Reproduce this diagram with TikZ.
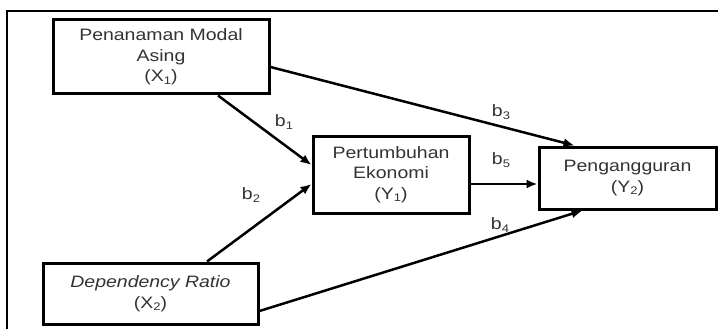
\documentclass[tikz,border=0pt]{standalone}
\usepackage{fontspec}
\setmainfont{Liberation Sans}[FakeStretch=1.18]
\usetikzlibrary{arrows.meta}
\newcommand{\sbs}[1]{\raisebox{-2.5pt}{\fontsize{11}{11}\selectfont #1}}
\begin{document}
\begin{tikzpicture}[x=1pt,y=-1pt,
  box/.style={draw=black,line width=3pt,fill=white,align=center,inner sep=0pt,
    font=\fontsize{16.5}{20.5}\selectfont,text=black!80},
  conn/.style={line width=2.5pt,-{Latex[length=11pt,width=9pt]}},
  lab/.style={font=\fontsize{16.5}{20}\selectfont,text=black!80,inner sep=0pt}]
\useasboundingbox (0,0) rectangle (718,329);
\draw[line width=2.2pt] (7,331) -- (7,11) -- (720,11);
\node[box,minimum width=216pt,minimum height=74pt] (x1) at (161,57) {Penanaman Modal\\Asing\\(X\sbs{1})};
\node[box,minimum width=215pt,minimum height=61pt] (x2) at (150.5,293.5) {\itshape Dependency Ratio\\(X\sbs{2})};
\node[box,minimum width=156pt,minimum height=77pt] (y1) at (391,174.5) {Pertumbuhan\\Ekonomi\\(Y\sbs{1})};
\node[box,minimum width=177pt,minimum height=62pt] (y2) at (627.5,178) {Pengangguran\\(Y\sbs{2})};
\draw[conn] ([xshift=57pt]x1.south) -- ([yshift=9.5pt]y1.west);
\draw[conn] ([xshift=56.5pt]x2.north) -- ([yshift=-9.5pt]y1.west);
\draw[conn] ([yshift=-10pt]x1.east) -- ([xshift=-53pt]y2.north);
\draw[conn] ([yshift=-17.5pt]x2.east) -- ([xshift=-45pt]y2.south);
\draw[conn] ([yshift=-9.5pt]y1.east) -- ([yshift=-9.5pt]y1.east -| y2.west);
\node[lab] (b1) at (284,122) {b\sbs{1}};
\node[lab] (b2) at (251,195) {b\sbs{2}};
\node[lab] (b3) at (501,112) {b\sbs{3}};
\node[lab] (b5) at (501,160) {b\sbs{5}};
\node[lab] (b4) at (500,225) {b\sbs{4}};
\end{tikzpicture}
\end{document}
